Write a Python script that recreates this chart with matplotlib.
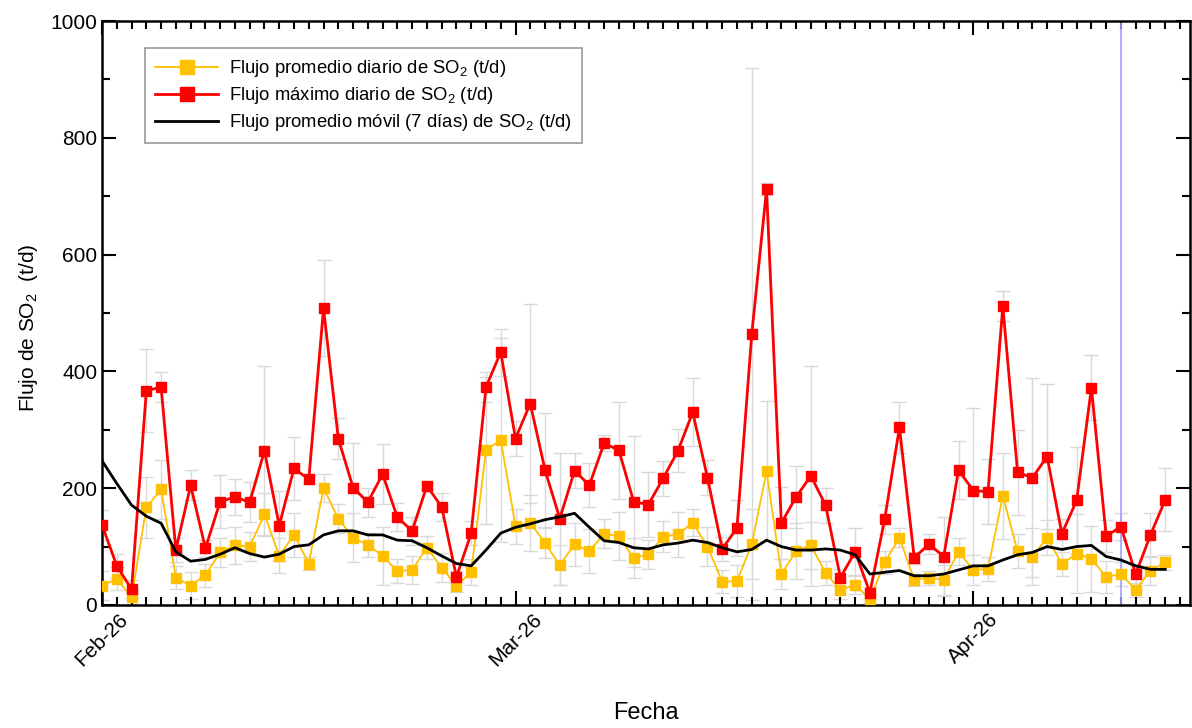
import numpy as np
import pandas as pd
import matplotlib.pyplot as plt
import matplotlib.dates as mdates
from matplotlib.ticker import MultipleLocator

plt.rcParams['font.family'] = ['Liberation Sans', 'DejaVu Sans']
plt.rcParams['mathtext.fontset'] = 'custom'
plt.rcParams['mathtext.rm'] = 'Liberation Sans'
plt.rcParams['mathtext.it'] = 'Liberation Sans:italic'

# daily SO2 flux (t/d), one value per day from 1 Feb 2026
fechas = pd.date_range('2026-02-01', periods=73, freq='D')

flujo_max = [137, 67, 27, 367, 373, 94, 205, 97, 177, 185,
             176, 264, 136, 234, 215, 508, 285, 201, 176, 224,
             150, 127, 204, 168, 48, 123, 373, 433, 285, 345,
             231, 148, 230, 205, 277, 265, 177, 172, 217, 264,
             330, 218, 96, 132, 464, 712, 140, 185, 221, 171,
             47, 91, 21, 147, 304, 81, 104, 83, 231, 196,
             194, 512, 227, 218, 254, 122, 179, 372, 118, 134,
             53, 120, 180]

flujo_prom = [33, 45, 13, 167, 198, 47, 33, 51, 90, 102,
              100, 155, 84, 120, 71, 200, 148, 115, 103, 84,
              58, 60, 98, 64, 33, 56, 265, 283, 135, 141,
              106, 68, 104, 92, 122, 118, 80, 87, 117, 121,
              141, 100, 40, 41, 104, 229, 53, 92, 102, 55,
              25, 35, 10, 73, 115, 43, 47, 43, 91, 60,
              62, 187, 92, 83, 115, 70, 88, 79, 48, 53,
              26, 59, 73]

flujo_movil = [247, 208, 171, 152, 140, 91, 75, 78, 87, 98,
               88, 82, 87, 100, 103, 120, 127, 127, 120, 120,
               111, 110, 98, 84, 71, 67, 94, 123, 133, 139,
               146, 151, 157, 133, 110, 107, 98, 96, 103, 106,
               111, 107, 98, 91, 95, 111, 100, 94, 94, 96,
               94, 86, 53, 56, 59, 50, 50, 53, 60, 67,
               67, 77, 86, 90, 100, 95, 100, 102, 83, 77,
               67, 61, 61]

err_max = [26, 20, 15, 71, 26, 20, 26, 15, 46, 31,
           34, 146, 60, 54, 7, 82, 35, 76, 25, 51,
           24, 24, 5, 24, 10, 20, 26, 40, 30, 170,
           98, 113, 30, 38, 14, 83, 112, 56, 30, 37,
           58, 30, 20, 48, 455, 10, 62, 53, 188, 30,
           15, 41, 10, 25, 43, 10, 17, 68, 50, 142,
           56, 26, 73, 170, 124, 25, 91, 56, 27, 23,
           15, 37, 54]

err_prom = [25, 20, 12, 52, 50, 20, 23, 20, 25, 31,
            25, 36, 30, 37, 11, 24, 25, 42, 20, 49,
            20, 24, 20, 25, 10, 22, 126, 175, 30, 48,
            26, 34, 37, 38, 25, 41, 34, 25, 26, 39,
            23, 33, 20, 27, 60, 120, 25, 48, 40, 20,
            15, 16, 8, 20, 16, 10, 12, 26, 23, 25,
            21, 74, 29, 48, 30, 20, 67, 57, 27, 20,
            12, 25, 13]

fecha_marca = pd.Timestamp('2026-04-11')

fig, ax = plt.subplots(figsize=(11.92, 7.28), dpi=100)
fig.subplots_adjust(left=0.0856, right=0.998, top=0.971, bottom=0.169)

# light grey error bars behind the series
ax.errorbar(fechas, flujo_max, yerr=err_max, fmt='none', ecolor='#d9d9d9',
            elinewidth=1, capsize=5, capthick=1, zorder=1)
ax.errorbar(fechas, flujo_prom, yerr=err_prom, fmt='none', ecolor='#d9d9d9',
            elinewidth=1, capsize=5, capthick=1, zorder=1)

ax.plot(fechas, flujo_prom, color='#ffc000', lw=1.3, marker='s', ms=7,
        label='Flujo promedio diario de SO$_2$ (t/d)', zorder=3)
ax.plot(fechas, flujo_max, color='#ff0000', lw=2, marker='s', ms=7,
        label='Flujo máximo diario de SO$_2$ (t/d)', zorder=4)
ax.plot(fechas, flujo_movil, color='black', lw=2,
        label='Flujo promedio móvil (7 días) de SO$_2$ (t/d)', zorder=5)

ax.axvline(fecha_marca, color='#a0a0ff', lw=1.2, zorder=2)

ax.set_ylim(0, 1000)
ax.set_xlim(fechas[0], fechas[0] + pd.Timedelta(days=73.65))

ax.yaxis.set_major_locator(MultipleLocator(200))
ax.yaxis.set_minor_locator(MultipleLocator(100))
ax.xaxis.set_major_locator(mdates.MonthLocator())
ax.xaxis.set_minor_locator(mdates.DayLocator())
ax.xaxis.set_major_formatter(mdates.DateFormatter('%b-%y'))

ax.tick_params(which='both', direction='in', top=True, right=True, width=1.5,
               labelsize=15)
ax.tick_params(which='major', length=10)
ax.tick_params(which='minor', length=6)
for lbl in ax.get_xticklabels():
    lbl.set_rotation(45)
    lbl.set_ha('center')
    lbl.set_va('top')

for sp in ax.spines.values():
    sp.set_linewidth(1.8)

ax.set_ylabel('Flujo de SO$_2$  (t/d)', fontsize=15, va='center')
ax.yaxis.set_label_coords(-0.068, 0.474)
ax.set_xlabel('Fecha', fontsize=17, va='center')
ax.xaxis.set_label_coords(0.5, -0.185)

leg = ax.legend(loc='upper left', bbox_to_anchor=(0.0395, 0.954), borderaxespad=0,
                fontsize=13.3, frameon=True, fancybox=False, handlelength=3.4,
                handletextpad=0.6, labelspacing=0.33, borderpad=0.55,
                markerscale=1.35)
leg.get_frame().set_edgecolor('#808080')
leg.get_frame().set_linewidth(1.2)

fig.savefig('out.png', dpi=100)
